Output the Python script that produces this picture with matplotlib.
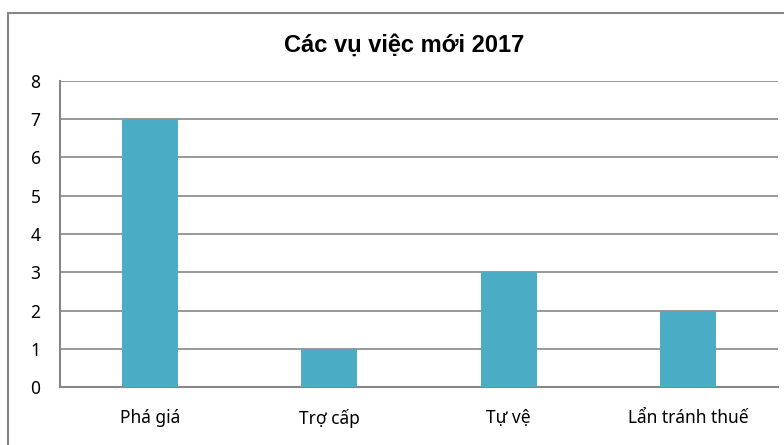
import matplotlib.pyplot as plt
from matplotlib.patches import Rectangle

categories = ['Phá giá', 'Trợ cấp', 'Tự vệ', 'Lẩn tránh thuế']
values = [7, 1, 3, 2]
title = 'Các vụ việc mới 2017'

plt.rcParams['font.family'] = ['Noto Sans', 'DejaVu Sans']

fig = plt.figure(figsize=(7.84, 4.45), dpi=100)
ax = fig.add_axes([0.0765, 0.1303, 0.9158, 0.6877])

# khung ngoài của biểu đồ
fig.patches.append(Rectangle((8 / 784, -0.1), 1.1, 1 - 13 / 445 + 0.1,
                             transform=fig.transFigure, fill=False,
                             edgecolor='#868686', linewidth=1.5))

x = range(len(categories))
ax.bar(x, values, width=0.31, color='#4BACC6', zorder=3)
ax.set_xlim(-0.5, len(categories) - 0.5)
ax.set_ylim(0, 8)
ax.set_yticks(range(0, 9))
ax.set_xticks(list(x))
ax.set_xticklabels(categories)
ax.tick_params(axis='both', length=0, labelsize=12.5, colors='black')
ax.tick_params(axis='x', pad=16)
ax.tick_params(axis='y', pad=14)
ax.grid(axis='y', color='#868686', linewidth=1.2, zorder=0)
for s in ['top', 'right']:
    ax.spines[s].set_visible(False)
for s in ['left', 'bottom']:
    ax.spines[s].set_color('#868686')
    ax.spines[s].set_linewidth(1.5)

fig.text(404 / 784, 1 - 45 / 445, title, ha='center', va='center', fontsize=17,
         fontweight='bold', family=['Liberation Sans Narrow', 'Liberation Sans', 'DejaVu Sans'])

fig.savefig('out.png', dpi=100)
